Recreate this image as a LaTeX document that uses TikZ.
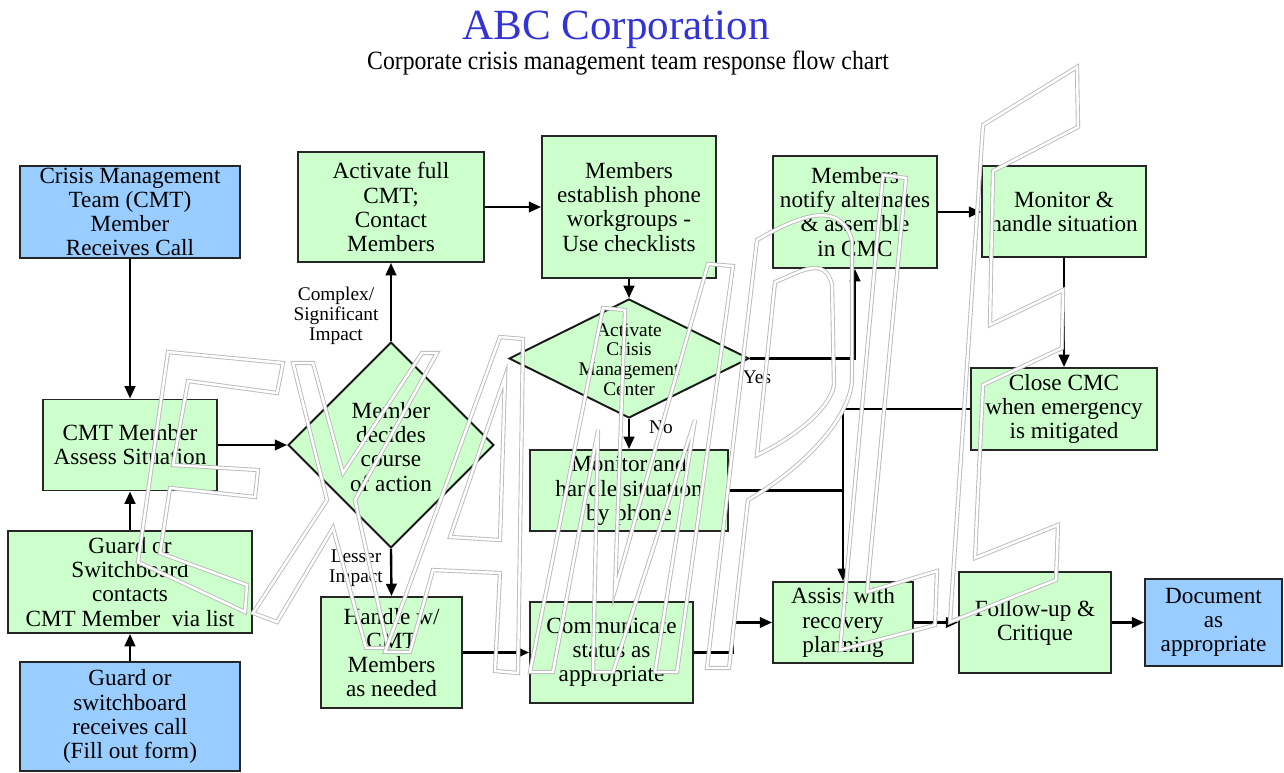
\documentclass[tikz,border=0pt]{standalone}
\usepackage{fontspec}
\setmainfont{Liberation Serif}
\newfontfamily\condserif[FakeStretch=0.9]{Liberation Serif}
\usetikzlibrary{shapes.geometric,arrows.meta}
\definecolor{boxgreen}{RGB}{204,255,204}
\definecolor{boxblue}{RGB}{153,204,255}
\definecolor{titleblue}{RGB}{51,51,214}
\newcommand\boxfont{\fontsize{13.2}{13.7}\selectfont}
\newcommand\smallfont{\fontsize{11}{11.3}\selectfont}
\tikzset{
  box/.style={rectangle, draw=black!85, line width=1.1pt, align=center, inner sep=0pt, font=\boxfont},
  gbox/.style={box, fill=boxgreen},
  bbox/.style={box, fill=boxblue},
  dia/.style={diamond, draw=black!90, line width=1.1pt, fill=boxgreen, inner sep=0pt},
  conn/.style={line width=1.35pt, draw=black},
  arr/.style={conn, -{Triangle[length=7pt,width=6pt]}},
  lbl/.style={font=\smallfont, align=center, inner sep=0pt},
  wm/.style={draw=gray!55, line width=0.5pt, double=white, double distance=1.4pt, line join=miter}
}
\begin{document}
\begin{tikzpicture}[x=0.02cm, y=-0.02cm]
\useasboundingbox[fill=white] (0,0) rectangle (1284,773);

% titles
\node[anchor=base, font=\fontsize{24.5}{26}\selectfont, text=titleblue] (title) at (616,40) {ABC Corporation};
\node[anchor=base, font=\condserif\fontsize{15}{16}\selectfont] (subtitle) at (628,70) {Corporate crisis management team response flow chart};

% boxes
\node[bbox, minimum width=4.4cm, minimum height=1.84cm] (b1) at (130,212) {Crisis Management\\Team (CMT)\\Member\\Receives Call};
\node[gbox, minimum width=3.48cm, minimum height=1.82cm] (b2) at (130,445) {CMT Member\\Assess Situation};
\node[gbox, minimum width=4.88cm, minimum height=2.04cm] (b3) at (130,582) {Guard or\\Switchboard\\contacts\\CMT Member~~via list};
\node[bbox, minimum width=4.4cm, minimum height=2.18cm] (b4) at (130,716.5) {Guard or\\switchboard\\receives call\\(Fill out form)};
\node[gbox, minimum width=3.72cm, minimum height=2.2cm] (b5) at (391,207) {Activate full\\CMT;\\Contact\\Members};
\node[dia, minimum width=4.12cm, minimum height=4.12cm] (d6) at (391,445) {};
\node[font=\boxfont, align=center, inner sep=0pt] (t6) at (391,447) {Member\\decides\\course\\of action};
\node[gbox, minimum width=2.82cm, minimum height=2.22cm] (b7) at (391.5,652.5) {Handle w/\\CMT\\Members\\as needed};
\node[gbox, minimum width=3.48cm, minimum height=2.84cm] (b8) at (629,207) {Members\\establish phone\\workgroups -\\Use checklists};
\node[dia, minimum width=4.8cm, minimum height=2.38cm] (d9) at (629,358.5) {};
\node[lbl] (t9) at (629,359.5) {Activate\\Crisis\\Management\\Center};
\node[gbox, minimum width=3.96cm, minimum height=1.62cm] (b10) at (629,490.5) {Monitor and\\handle situation\\by phone};
\node[gbox, minimum width=3.26cm, minimum height=2.02cm] (b11) at (611.5,652.5) {Communicate\\status as\\appropriate};
\node[gbox, minimum width=3.28cm, minimum height=2.24cm] (b12) at (855,212) {Members\\notify alternates\\\& assemble\\in CMC};
\node[gbox, minimum width=3.28cm, minimum height=1.82cm] (b13) at (1064,211.5) {Monitor \&\\handle situation};
\node[gbox, minimum width=3.72cm, minimum height=1.64cm] (b14) at (1064,409) {Close CMC\\when emergency\\is mitigated};
\node[gbox, minimum width=2.8cm, minimum height=1.62cm] (b15) at (843,622.5) {Assist with\\recovery\\planning};
\node[gbox, minimum width=3.04cm, minimum height=2.02cm] (b16) at (1035,622.5) {Follow-up \&\\Critique};
\node[bbox, minimum width=2.74cm, minimum height=1.74cm] (b17) at (1213.5,622.5) {Document\\as\\appropriate};

% labels
\node[lbl] (lcx) at (336,316) {Complex/\\Significant\\Impact};
\node[lbl] (lls) at (356,568) {Lesser\\Impact};
\node[lbl] (lyes) at (757,377) {Yes};
\node[lbl] (lno) at (661,427) {No};

% connectors
\draw[arr] (b1.south) -- (b2.north);
\draw[arr] (b3.north) -- (b2.south);
\draw[arr] (b4.north) -- (b3.south);
\draw[arr] (b2.east) -- (d6.west);
\draw[arr] (d6.north) -- (b5.south);
\draw[arr] (d6.south) -- (b7.north);
\draw[arr] (b5.east) -- (b5.east -| b8.west);
\draw[arr] (b8.south) -- (d9.north);
\draw[arr] (d9.east) -| (b12.south);
\draw[arr] (d9.south) -- (b10.north);
\draw[arr] (b12.east) -- (b12.east -| b13.west);
\draw[arr] (b13.south) -- (b14.north);
\draw[arr] (b14.west) -| (b15.north);
\draw[conn] (b10.east) -- (b10.east -| b15.north);
\draw[arr] (b7.east) -- (b11.west);
\coordinate (k1) at (733,652.5);
\draw[arr] (b11.east) -- (k1) |- (b15.west);
\draw[arr] (b15.east) -- (b16.west);
\draw[arr] (b16.east) -- (b17.west);

% watermark EXAMPLE
\draw[wm] (168,352) -- (283,363) -- (277,393) -- (188,381) -- (173,465) -- (258,470) -- (255,497) -- (170,488) -- (160,553) -- (247,585) -- (245,612) -- (138,562) -- cycle;
\draw[wm] (293,363) -- (313,363) -- (343,473) -- (422,353) -- (437,353) -- (355,500) -- (388,648) -- (366,648) -- (333,528) -- (277,622) -- (253,613) -- (327,500) -- cycle;
\draw[wm] (500,337) -- (523,339) -- (518,673) -- (495,671) -- (500,573) -- (433,570) -- (410,652) -- (385,652) -- cycle;
\draw[wm] (450,537) -- (505,377) -- (500,540) -- cycle;
\draw[wm] (530,672) -- (603,308) -- (625,310) -- (615,590) -- (708,264) -- (733,266) -- (677,672) -- (655,672) -- (695,420) -- (613,672) -- (593,672) -- (598,430) -- (553,672) -- cycle;
\draw[wm] (707,668) -- (757,240) .. controls (800,215) and (840,200) .. (852,240) -- (852,380) .. controls (850,420) and (800,470) .. (748,500) -- (729,668) -- cycle;
\draw[wm] (775,282) .. controls (800,272) and (825,255) .. (832,285) -- (834,385) .. controls (830,410) and (790,440) .. (757,455) -- cycle;
\draw[wm] (883,175) -- (906,178) -- (867,592) -- (937,571) -- (935,625) -- (840,650) -- cycle;
\draw[wm] (983,125) -- (1077,67) -- (1078,127) -- (993,171) -- (990,325) -- (1063,290) -- (1062,348) -- (983,385) -- (975,558) -- (1058,525) -- (1056,580) -- (950,622) -- cycle;
\end{tikzpicture}
\end{document}
